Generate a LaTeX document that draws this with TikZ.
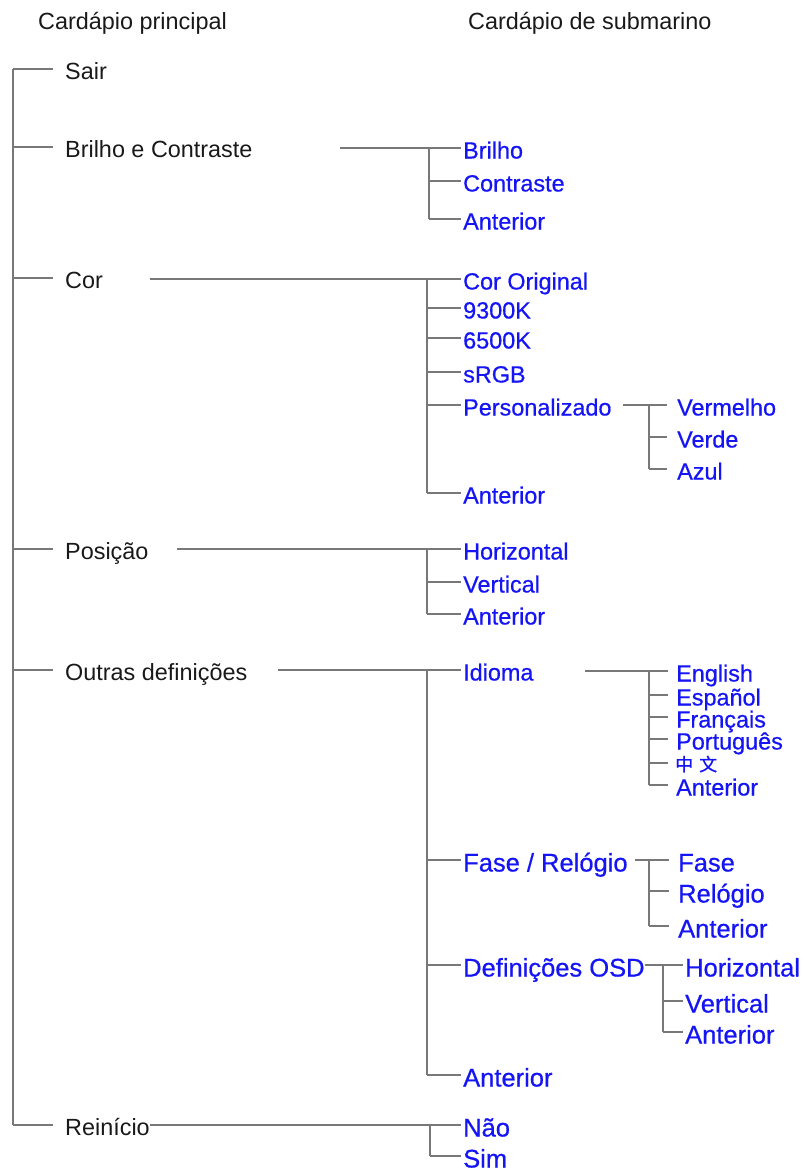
\documentclass[tikz,border=0pt]{standalone}
\usepackage{fontspec}
\setmainfont{Liberation Sans}
\newfontfamily\heavyfont[FakeBold=0.6]{Liberation Sans}
\newfontfamily\cjkfont[FakeBold=0.8]{Noto Sans CJK SC}
\definecolor{itemblue}{RGB}{20,20,245}
\definecolor{linegray}{RGB}{120,120,120}
\begin{document}
\begin{tikzpicture}[x=1pt,y=-1pt,
  conn/.style={draw=linegray, line width=1.4pt},
  nfont/.style={font=\fontsize{23.4}{28}\selectfont, text height=21pt, text depth=0pt},
  bfont/.style={font=\fontsize{25.5}{30}\selectfont, text height=23pt, text depth=0pt},
  base/.style={anchor=west, inner ysep=0pt},
  mainitem/.style={base, nfont, inner xsep=12pt, text=black!90},
  subitem/.style={base, font=\heavyfont\fontsize{23.4}{28}\selectfont, text height=21pt, text depth=0pt, inner xsep=2pt, text=itemblue},
  bigitem/.style={base, font=\heavyfont\fontsize{25.5}{30}\selectfont, text height=23pt, text depth=0pt, inner xsep=2pt, text=itemblue},
  header/.style={anchor=base west, inner sep=0pt, text=black!90, font=\fontsize{23.4}{28}\selectfont}]
\useasboundingbox (0,0) rectangle (803,1172);

% headers
\node[header] (h1) at (38,29.5) {Cardápio principal};
\node[header] (h2) at (468,29.5) {Cardápio de submarino};

% main menu
\node[mainitem] (sair) at (53,69) {Sair};
\node[mainitem] (bc) at (53,147) {Brilho e Contraste};
\node[mainitem] (cor) at (53,278) {Cor};
\node[mainitem] (pos) at (53,549) {Posição};
\node[mainitem] (outras) at (53,670) {Outras definições};
\node[mainitem] (rein) at (53,1125) {Reinício};
\coordinate (mx) at (13,0);
\draw[conn] (sair.west -| mx) -- (rein.west -| mx);
\foreach \n in {sair,bc,cor,pos,outras,rein}
  \draw[conn] (\n.west -| mx) -- (\n.west);

% Brilho e Contraste
\node[subitem] (bri) at (461,148) {Brilho};
\node[subitem] (con) at (461,181) {Contraste};
\node[subitem] (antB) at (461,219) {Anterior};
\coordinate (bs) at (340,0);
\coordinate (bj) at (429,0);
\draw[conn] (bri.west -| bs) -- (bri.west);
\draw[conn] (bri.west -| bj) -- (antB.west -| bj);
\foreach \n in {con,antB} \draw[conn] (\n.west -| bj) -- (\n.west);

% Cor
\node[subitem] (corig) at (461,279) {Cor Original};
\node[subitem] (k93) at (461,308) {9300K};
\node[subitem] (k65) at (461,338) {6500K};
\node[subitem] (srgb) at (461,372) {sRGB};
\node[subitem] (pers) at (461,405) {Personalizado};
\node[subitem] (antC) at (461,493) {Anterior};
\coordinate (cs) at (150,0);
\coordinate (cj) at (427,0);
\draw[conn] (corig.west -| cs) -- (corig.west);
\draw[conn] (corig.west -| cj) -- (antC.west -| cj);
\foreach \n in {k93,k65,srgb,pers,antC} \draw[conn] (\n.west -| cj) -- (\n.west);

% Personalizado
\node[subitem, inner xsep=10pt] (verm) at (667,405) {Vermelho};
\node[subitem, inner xsep=10pt] (verde) at (667,437) {Verde};
\node[subitem, inner xsep=10pt] (azul) at (667,469) {Azul};
\coordinate (ps) at (623,0);
\coordinate (pj) at (649,0);
\draw[conn] (verm.west -| ps) -- (verm.west);
\draw[conn] (verm.west -| pj) -- (azul.west -| pj);
\foreach \n in {verde,azul} \draw[conn] (\n.west -| pj) -- (\n.west);

% Posicao
\node[subitem] (hor) at (461,549) {Horizontal};
\node[subitem] (verP) at (461,582) {Vertical};
\node[subitem] (antP) at (461,614) {Anterior};
\coordinate (qs) at (177,0);
\coordinate (qj) at (427,0);
\draw[conn] (hor.west -| qs) -- (hor.west);
\draw[conn] (hor.west -| qj) -- (antP.west -| qj);
\foreach \n in {verP,antP} \draw[conn] (\n.west -| qj) -- (\n.west);

% Outras definicoes
\node[subitem] (idi) at (461,670) {Idioma};
\node[bigitem] (fase) at (461,860) {Fase / Relógio};
\node[bigitem] (osd) at (461,965) {Definições OSD};
\node[bigitem] (antO) at (461,1075) {Anterior};
\coordinate (os) at (278,0);
\coordinate (oj) at (427,0);
\draw[conn] (idi.west -| os) -- (idi.west);
\draw[conn] (idi.west -| oj) -- (antO.west -| oj);
\foreach \n in {fase,osd,antO} \draw[conn] (\n.west -| oj) -- (\n.west);

% Idioma
\node[subitem, inner xsep=8pt] (en) at (668,671) {English};
\node[subitem, inner xsep=8pt] (es) at (668,695) {Español};
\node[subitem, inner xsep=8pt] (fr) at (668,717) {Français};
\node[subitem, inner xsep=8pt] (pt) at (668,739) {Português};
\node[base, inner xsep=7pt, text=itemblue, font=\cjkfont\fontsize{18}{20}\selectfont, text height=16pt, text depth=0pt] (zh) at (668,763) {中\hspace{6pt}文};
\node[subitem, inner xsep=8pt] (antI) at (668,785) {Anterior};
\coordinate (is) at (585,0);
\coordinate (ij) at (649,0);
\draw[conn] (en.west -| is) -- (en.west);
\draw[conn] (en.west -| ij) -- (antI.west -| ij);
\foreach \n in {es,fr,pt,zh,antI} \draw[conn] (\n.west -| ij) -- (\n.west);

% Fase / Relogio
\node[bigitem, inner xsep=9pt] (fa) at (669,860) {Fase};
\node[bigitem, inner xsep=9pt] (rel) at (669,891) {Relógio};
\node[bigitem, inner xsep=9pt] (antF) at (669,926) {Anterior};
\coordinate (fs) at (635,0);
\coordinate (fj) at (649,0);
\draw[conn] (fa.west -| fs) -- (fa.west);
\draw[conn] (fa.west -| fj) -- (antF.west -| fj);
\foreach \n in {rel,antF} \draw[conn] (\n.west -| fj) -- (\n.west);

% Definicoes OSD
\node[bigitem] (oh) at (683,965) {Horizontal};
\node[bigitem] (ov) at (683,1001) {Vertical};
\node[bigitem] (antD) at (683,1032) {Anterior};
\coordinate (ds) at (645,0);
\coordinate (dj) at (663,0);
\draw[conn] (oh.west -| ds) -- (oh.west);
\draw[conn] (oh.west -| dj) -- (antD.west -| dj);
\foreach \n in {ov,antD} \draw[conn] (\n.west -| dj) -- (\n.west);

% Reinicio
\node[bigitem] (nao) at (461,1125) {Não};
\node[bigitem] (sim) at (461,1156) {Sim};
\coordinate (rs) at (150,0);
\coordinate (rj) at (430,0);
\draw[conn] (nao.west -| rs) -- (nao.west);
\draw[conn] (nao.west -| rj) -- (sim.west -| rj);
\draw[conn] (sim.west -| rj) -- (sim.west);
\end{tikzpicture}
\end{document}
